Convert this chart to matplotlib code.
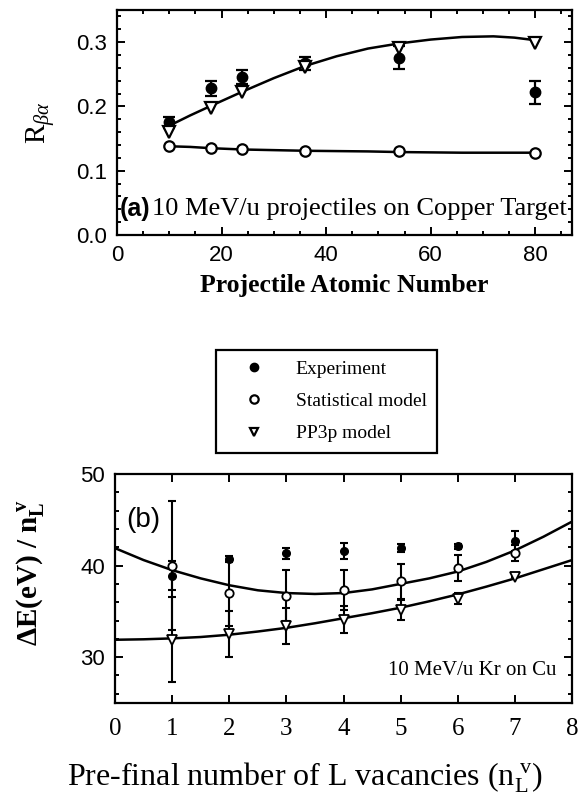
import matplotlib
matplotlib.use("Agg")
import matplotlib.pyplot as plt
from matplotlib.ticker import MultipleLocator

plt.rcParams['font.family'] = ['Liberation Serif', 'DejaVu Serif']
plt.rcParams['mathtext.fontset'] = 'custom'
plt.rcParams['mathtext.rm'] = 'Liberation Serif'
plt.rcParams['mathtext.it'] = 'Liberation Serif:italic'
plt.rcParams['mathtext.bf'] = 'Liberation Serif:bold'

# panel (a): R_beta/alpha vs projectile Z
z = [10, 18, 24, 36, 54, 80]
r_exp = [0.175, 0.228, 0.246, 0.267, 0.276, 0.222]
r_exp_err = [0.008, 0.012, 0.011, 0.010, 0.018, 0.018]
r_stat = [0.139, 0.135, 0.134, 0.131, 0.130, 0.128]
r_pp3p = [0.160, 0.198, 0.223, 0.262, 0.291, 0.299]

z_fit = [10, 14, 18, 24, 30, 36, 42, 48, 54, 60, 66, 72, 76, 80]
r_stat_fit = [0.138, 0.137, 0.135, 0.133, 0.132, 0.131, 0.1305, 0.130, 0.129,
              0.1285, 0.128, 0.128, 0.128, 0.128]
r_pp3p_fit = [0.170, 0.186, 0.201, 0.223, 0.244, 0.263, 0.278, 0.290, 0.298,
              0.304, 0.308, 0.309, 0.307, 0.303]

# panel (b): energy shift per L vacancy, 10 MeV/u Kr on Cu
n = [1, 2, 3, 4, 5, 6, 7]
e_exp = [38.9, 40.7, 41.35, 41.6, 41.9, 42.1, 42.7]
e_exp_err = [1.6, 0.3, 0.6, 0.85, 0.4, 0.3, 1.1]
e_stat = [40.0, 37.0, 36.7, 37.3, 38.3, 39.7, 41.35]
e_stat_err = [7.0, 3.6, 2.8, 2.2, 1.9, 1.4, 0.9]
e_pp3p = [31.9, 32.5, 33.4, 34.1, 35.15, 36.4, 38.8]
e_pp3p_err = [4.65, 2.5, 2.0, 1.5, 1.1, 0.6, 0.0]

n_fit = [0, 0.5, 1, 1.5, 2, 2.5, 3, 3.5, 4, 4.5, 5, 5.5, 6, 6.5, 7, 7.5, 8]
e_stat_fit = [41.9, 40.6, 39.5, 38.6, 37.85, 37.3, 37.0, 36.9, 37.0, 37.4, 38.0,
              38.6, 39.35, 40.4, 41.65, 43.15, 44.8]
e_pp3p_fit = [31.9, 31.95, 32.05, 32.2, 32.45, 32.8, 33.2, 33.7, 34.25, 34.8,
              35.4, 36.1, 36.85, 37.7, 38.6, 39.6, 40.6]

labels = ['Experiment', 'Statistical model', 'PP3p model']

fig = plt.figure(figsize=(5.78, 7.99), dpi=100)
ax_a = fig.add_axes([0.2024, 0.7059, 0.787, 0.2816])
ax_b = fig.add_axes([0.199, 0.1202, 0.7907, 0.2866])

sans = 'Liberation Sans'

# --- panel (a)
ax_a.plot(z_fit, r_stat_fit, color='black', lw=1.8, zorder=2)
ax_a.plot(z_fit, r_pp3p_fit, color='black', lw=1.8, zorder=2)
ax_a.errorbar(z, r_exp, yerr=r_exp_err, fmt='none', ecolor='black', elinewidth=1.6,
              capsize=4, capthick=1.6, zorder=3)
h_exp, = ax_a.plot(z, r_exp, 'o', ms=7.5, color='black', zorder=4)
h_stat, = ax_a.plot(z, r_stat, 'o', ms=7.5, mfc='white', mec='black', mew=1.6, zorder=4)
h_pp3p, = ax_a.plot(z, r_pp3p, 'v', ms=8, mfc='white', mec='black', mew=1.6, zorder=4)

ax_a.set_xlim(0, 87)
ax_a.set_ylim(0, 0.35)
ax_a.xaxis.set_major_locator(MultipleLocator(20))
ax_a.xaxis.set_minor_locator(MultipleLocator(5))
ax_a.yaxis.set_major_locator(MultipleLocator(0.1))
ax_a.yaxis.set_minor_locator(MultipleLocator(0.02))
ax_a.yaxis.set_major_formatter(plt.FormatStrFormatter('%.1f'))
ax_a.set_xlabel('Projectile Atomic Number', fontsize=18.5, fontweight='bold', labelpad=6)
ax_a.set_ylabel(r'R$_{\beta\alpha}$', fontsize=21, labelpad=14)
ax_a.text(0.005, 0.115, '(a)', transform=ax_a.transAxes, fontsize=18,
          fontweight='bold', family=sans, va='center')
ax_a.text(0.078, 0.115, '10 MeV/u projectiles on Copper Target', transform=ax_a.transAxes,
          fontsize=19, va='center')

# --- panel (b)
ax_b.plot(n_fit, e_stat_fit, color='black', lw=1.8, zorder=2)
ax_b.plot(n_fit, e_pp3p_fit, color='black', lw=1.8, zorder=2)
for vals, errs in [(e_stat, e_stat_err), (e_pp3p, e_pp3p_err), (e_exp, e_exp_err)]:
    ax_b.errorbar(n, vals, yerr=errs, fmt='none', ecolor='black', elinewidth=1.5,
                  capsize=3, capthick=1.5, zorder=3)
ax_b.plot(n, e_exp, 'o', ms=5.5, color='black', zorder=4)
ax_b.plot(n, e_stat, 'o', ms=6, mfc='white', mec='black', mew=1.3, zorder=4)
ax_b.plot(n, e_pp3p, 'v', ms=6.5, mfc='white', mec='black', mew=1.3, zorder=4)

ax_b.set_xlim(0, 8)
ax_b.set_ylim(25, 50)
ax_b.xaxis.set_major_locator(MultipleLocator(1))
ax_b.yaxis.set_major_locator(MultipleLocator(10))
ax_b.yaxis.set_minor_locator(MultipleLocator(2))
ax_b.set_xlabel(r'Pre-final number of L vacancies (n$_\mathrm{L}^{\ \mathrm{v}}$)',
                fontsize=23)
ax_b.xaxis.set_label_coords(0.416, -0.25)
ax_b.set_ylabel(r'$\mathbf{\Delta E(eV)\ /\ n_L^{\ v}}$', fontsize=21)
ax_b.yaxis.set_label_coords(-0.15, 0.57)
ax_b.text(0.025, 0.8, '(b)', transform=ax_b.transAxes, fontsize=20, family=sans,
          va='center')
ax_b.text(0.965, 0.14, '10 MeV/u Kr on Cu', transform=ax_b.transAxes, fontsize=15,
          ha='right', va='center')

for ax in (ax_a, ax_b):
    for s in ax.spines.values():
        s.set_linewidth(1.6)
    ax.tick_params(which='both', direction='in', top=True, right=True, width=1.4)
    ax.tick_params(which='major', length=6)
    ax.tick_params(which='minor', length=3)

for lab in ax_a.get_xticklabels() + ax_a.get_yticklabels() + ax_b.get_yticklabels():
    lab.set_family(sans)
    lab.set_fontsize(16)
for lab in ax_b.get_xticklabels():
    lab.set_fontsize(18)
ax_a.tick_params(axis='both', pad=7)
ax_b.tick_params(axis='x', pad=11)
ax_b.tick_params(axis='y', pad=7)

leg = fig.legend([h_exp, h_stat, h_pp3p], labels, loc='center',
                 bbox_to_anchor=(0.565, 0.4975), fontsize=14, frameon=True,
                 fancybox=False, edgecolor='black', framealpha=1, markerscale=0.8,
                 handlelength=2.8, handletextpad=0.76, labelspacing=0.75,
                 borderpad=0.55, borderaxespad=0)
leg.get_frame().set_linewidth(1.6)

fig.savefig('out.png', dpi=100)
